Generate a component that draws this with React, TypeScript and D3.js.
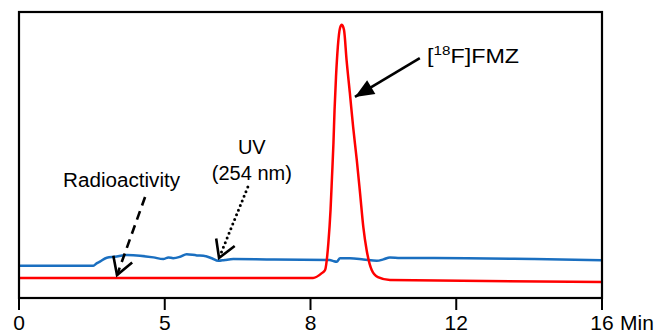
import React from 'react';
import * as d3 from 'd3';

// retention time (min) and detector signal (arbitrary units)
const radioTime = [0, 8.07, 8.31, 8.40, 8.49, 8.55, 8.59, 8.63, 8.66, 8.70, 8.75, 8.81, 8.86, 8.92, 8.99, 9.08, 9.17, 9.27, 9.36, 9.45, 9.54, 9.68, 9.85, 10.18, 16];
const radioSignal = [7.0, 7.0, 8.7, 9.8, 19.2, 30.8, 42.3, 54.2, 65.7, 77.3, 87.8, 94.4, 95.5, 93.7, 83.2, 71.7, 59.8, 48.3, 36.7, 24.8, 16.8, 9.8, 7.3, 6.3, 5.6];

const uvTime = [0, 2.04, 2.13, 2.22, 2.41, 2.63, 2.96, 3.32, 3.69, 3.96, 4.10, 4.23, 4.42, 4.60, 4.88, 5.06, 5.29, 5.47, 5.65, 5.88, 6.80, 8.53, 8.63, 8.72, 8.81, 9.08, 9.45, 9.82, 10.0, 10.18, 10.46, 12.29, 14.11, 16];
const uvSignal = [11.3, 11.3, 12.1, 12.7, 14.1, 14.4, 15.0, 14.8, 14.2, 13.6, 14.2, 13.9, 14.4, 15.3, 14.9, 14.8, 13.9, 13.0, 13.3, 13.6, 13.5, 13.3, 12.9, 12.7, 13.9, 13.9, 13.5, 13.0, 13.5, 14.2, 14.0, 13.9, 13.6, 13.2];

const tickValues = [0, 4, 8, 12, 16];
const tickLabels = ['0', '5', '8', '12', '16'];

const W = 661;
const H = 333;
const margin = { top: 12, right: 59, bottom: 35, left: 19 };
const font = 'Liberation Sans, Arial, sans-serif';

export default function App() {
  const x = d3.scaleLinear().domain([0, 16]).range([margin.left, W - margin.right]);
  const y = d3.scaleLinear().domain([0, 100]).range([H - margin.bottom, margin.top]);

  const line = d3.line<[number, number]>()
    .x(d => x(d[0]))
    .y(d => y(d[1]))
    .curve(d3.curveMonotoneX);

  const radio = radioTime.map((t, i) => [t, radioSignal[i]] as [number, number]);
  const uv = uvTime.map((t, i) => [t, uvSignal[i]] as [number, number]);

  const bottom = H - margin.bottom;

  return (
    <svg width={W} height={H} style={{ position: 'absolute', left: 0, top: 0 }} fontFamily={font}>
      <defs>
        <marker id="open" markerUnits="userSpaceOnUse" markerWidth="30" markerHeight="30"
          refX="20" refY="15" orient="auto" viewBox="0 0 30 30">
          <path d="M3,5 L20,15 L3,25" fill="none" stroke="#000" strokeWidth="2.6" />
        </marker>
        <marker id="solid" markerUnits="userSpaceOnUse" markerWidth="24" markerHeight="20"
          refX="20" refY="10" orient="auto" viewBox="0 0 24 20">
          <path d="M1,2 L20,10 L1,18 Z" fill="#000" />
        </marker>
      </defs>

      <path d={line(uv) ?? ''} fill="none" stroke="#1a6fc0" strokeWidth={2.5} />
      <path d={line(radio) ?? ''} fill="none" stroke="#ff0000" strokeWidth={2.5} />

      <rect x={margin.left} y={margin.top} width={W - margin.left - margin.right}
        height={bottom - margin.top} fill="none" stroke="#000" strokeWidth={2.2} />

      {tickValues.map((t, i) => (
        <g key={t}>
          <line x1={x(t)} x2={x(t)} y1={bottom} y2={bottom + 12} stroke="#000" strokeWidth={2} />
          <text x={x(t)} y={bottom + 32} textAnchor="middle" fontSize={21} fill="#000">{tickLabels[i]}</text>
        </g>
      ))}
      <text x={x(16) + 18} y={bottom + 32} fontSize={21} fill="#000">Min</text>

      {/* [18F]FMZ */}
      <line x1={x(11.0)} y1={y(83.9)} x2={x(9.22)} y2={y(70.3)} stroke="#000" strokeWidth={2.6} markerEnd="url(#solid)" />
      <text x={x(11.2)} y={y(82.2)} fontSize={20} fill="#000" textLength={92} lengthAdjust="spacingAndGlyphs">
        [<tspan fontSize={13} dy={-8}>18</tspan><tspan dy={8}>F]FMZ</tspan>
      </text>

      {/* Radioactivity */}
      <text x={x(1.21)} y={y(38.8)} fontSize={20} fill="#000" textLength={117} lengthAdjust="spacingAndGlyphs">Radioactivity</text>
      <line x1={x(3.46)} y1={y(35.3)} x2={x(2.69)} y2={y(8.0)} stroke="#000" strokeWidth={2.6}
        strokeDasharray="9 6" markerEnd="url(#open)" />

      {/* UV */}
      <text x={x(6.39)} y={y(50.3)} fontSize={20} textAnchor="middle" fill="#000">UV</text>
      <text x={x(6.39)} y={y(41.3)} fontSize={20} textAnchor="middle" fill="#000">(254 nm)</text>
      <line x1={x(6.28)} y1={y(38.8)} x2={x(5.49)} y2={y(14.0)} stroke="#000" strokeWidth={3}
        strokeDasharray="0 5" strokeLinecap="round" markerEnd="url(#open)" />
    </svg>
  );
}
